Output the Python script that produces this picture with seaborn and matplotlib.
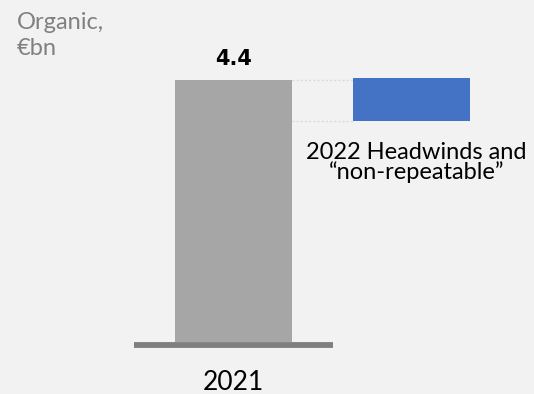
import matplotlib
matplotlib.use("Agg")
import matplotlib.pyplot as plt
import seaborn as sns
import pandas as pd

# ---- data ----
categories = ["2021", "2022 Headwinds and\n\u201cnon-repeatable\u201d"]
bar_tops = [4.4, 4.43]
bar_bottoms = [0.0, 3.71]
value_labels = ["4.4", ""]
unit_label = "Organic,\n\u20acbn"

colors = ["#a6a6a6", "#4472c4"]
bg = "#f2f2f2"

sns.set_theme(style="white")
plt.rcParams["font.family"] = ["Lato", "DejaVu Sans"]

fig = plt.figure(figsize=(5.34, 3.94), dpi=100, facecolor=bg)
ax = fig.add_axes([0, 0, 1, 1])
ax.set_facecolor(bg)

df = pd.DataFrame({"cat": categories, "top": bar_tops})
sns.barplot(data=df, x="cat", y="top", hue="cat", palette=colors,
            width=0.655, legend=False, ax=ax, saturation=1, linewidth=0)

# floating bars: move each bar to its bottom
for patch, b, t in zip(ax.patches, bar_bottoms, bar_tops):
    patch.set_y(b)
    patch.set_height(t - b)

hw = 0.655 / 2
# dotted connectors between bars
ax.hlines([bar_tops[0], bar_bottoms[1]], 0 + hw, 1 - hw,
          colors="#d9d9d9", linestyles=(0, (1.5, 1.5)), linewidth=1)

# baseline
ax.hlines(-0.042, -0.557, 0.557, colors="#7f7f7f", linewidth=4.2)

# value label
ax.text(0, 4.654, value_labels[0], ha="center", va="baseline",
        fontsize=15, fontweight="bold", color="#000000",
        family=["DejaVu Sans"])

# category labels
ax.text(0, -0.80, categories[0], ha="center", va="baseline",
        fontsize=19, color="#000000")
ax.text(1.025, 3.36, categories[1], ha="center", va="top",
        fontsize=17, color="#000000", linespacing=0.92)

# unit label
fig.text(17 / 534, 1 - 12 / 394, unit_label, ha="left", va="top",
         fontsize=17, color="#808080", linespacing=1.28)

ax.set_xlim(-1.308, 1.684)
ax.set_ylim(-0.872, 5.738)
ax.axis("off")

fig.savefig("out.png", dpi=100, facecolor=bg)
